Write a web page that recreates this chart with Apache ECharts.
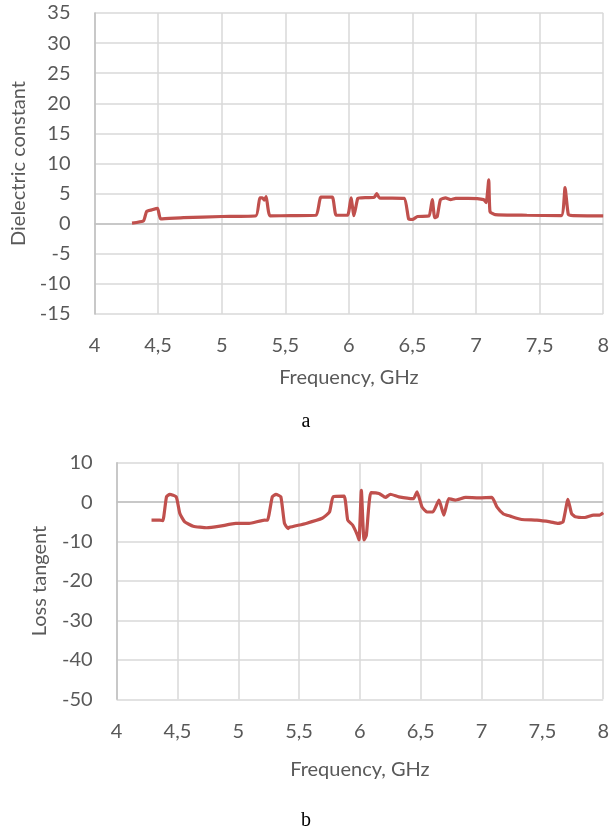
<!DOCTYPE html>
<html><head><meta charset="utf-8">
<script src="https://cdn.jsdelivr.net/npm/echarts@6/dist/echarts.min.js"></script>
<style>html,body{margin:0;padding:0;background:#fff}#c{width:612px;height:836px}</style>
</head><body><div id="c"></div>
<script>
// Chart a: Dielectric constant vs frequency (GHz)
const freqA = [4.295,4.386,4.41,4.45,4.496,4.52,4.7,5.0,5.27,5.30,5.32,5.335,5.35,5.38,5.55,5.743,5.78,5.87,5.9,5.99,6.017,6.04,6.07,6.1,6.2,6.22,6.24,6.435,6.47,6.50,6.54,6.63,6.656,6.675,6.695,6.72,6.76,6.80,6.84,6.94,7.06,7.08,7.10,7.11,7.15,7.4,7.67,7.70,7.726,7.765,8.0];
const epsA  = [0.1,0.5,2.05,2.3,2.55,0.8,1.0,1.2,1.33,4.3,4.3,3.9,4.5,1.3,1.35,1.4,4.4,4.4,1.4,1.4,4.3,1.33,4.2,4.3,4.4,5.0,4.3,4.2,0.8,0.7,1.2,1.3,4.0,1.0,1.2,4.0,4.3,4.0,4.2,4.2,4.0,3.5,7.3,2.0,1.5,1.4,1.33,6.0,1.5,1.33,1.3];
// Chart b: Loss tangent vs frequency (GHz)
const freqB = [4.287,4.355,4.38,4.41,4.437,4.49,4.52,4.56,4.63,4.74,4.85,4.98,5.09,5.215,5.24,5.28,5.31,5.35,5.38,5.41,5.42,5.557,5.69,5.75,5.78,5.87,5.9,5.94,5.98,5.993,6.012,6.034,6.053,6.09,6.157,6.21,6.25,6.32,6.44,6.47,6.51,6.55,6.6,6.65,6.69,6.73,6.785,6.87,6.976,7.085,7.126,7.18,7.236,7.33,7.454,7.564,7.63,7.67,7.71,7.74,7.77,7.85,7.92,7.97,8.0];
const lossB = [-4.57,-4.57,-4.7,1.35,1.95,1.35,-2.9,-5.0,-6.1,-6.5,-6.1,-5.4,-5.4,-4.57,-4.6,1.35,1.95,1.35,-5.4,-6.7,-6.4,-5.4,-4.1,-2.5,1.35,1.5,-4.57,-5.8,-8.4,-9.6,3.0,-9.6,-8.4,2.4,2.2,1.2,2.0,1.35,0.9,2.6,-1.2,-2.5,-2.5,0.5,-3.3,0.9,0.5,1.2,1.1,1.2,-1.2,-3.0,-3.55,-4.4,-4.57,-5.0,-5.4,-5.0,0.7,-2.9,-3.7,-3.9,-3.3,-3.3,-2.7];
const xTicks = {min:4, max:8, interval:0.5};
const yTicksA = {min:-15, max:35, interval:5};
const yTicksB = {min:-50, max:10, interval:10};

const FONT = 'Lato';
const FS = 20;
const TXT = '#595959';
const GRID = '#D9D9D9';
const AXIS = '#BFBFBF';
const RED = '#C0504D';
const fmt = v => String(v).replace('.', ',');

function xAxis(gi, gap){
  return {type:'value', gridIndex:gi, min:xTicks.min, max:xTicks.max, interval:xTicks.interval,
    name:'Frequency, GHz', nameLocation:'middle', nameGap:gap,
    nameTextStyle:{fontFamily:FONT, fontSize:FS, color:TXT},
    axisLine:{show:false}, axisTick:{show:false},
    axisLabel:{fontFamily:FONT, fontSize:FS, color:TXT, margin:22, formatter:fmt},
    splitLine:{show:true, lineStyle:{color:GRID, width:1.5}}};
}
function yAxis(gi, t, name, gap){
  return {type:'value', gridIndex:gi, min:t.min, max:t.max, interval:t.interval,
    name:name, nameLocation:'middle', nameGap:gap,
    nameTextStyle:{fontFamily:FONT, fontSize:FS, color:TXT},
    axisLine:{show:true, onZero:false, lineStyle:{color:AXIS, width:1.5}}, axisTick:{show:false},
    axisLabel:{fontFamily:FONT, fontSize:FS, color:TXT, margin:24},
    splitLine:{show:true, lineStyle:{color:GRID, width:1.5}}};
}
const zeroLine = {silent:true, symbol:'none', label:{show:false},
  lineStyle:{color:AXIS, width:1.5, type:'solid'}, data:[{yAxis:0}]};

const chart = echarts.init(document.getElementById('c'), null, {renderer:'canvas'});
chart.setOption({
  animation:false,
  backgroundColor:'#fff',
  grid:[
    {left:94.5, right:7, top:13, bottom:522, containLabel:false},
    {left:116.6, right:7, top:462.7, bottom:136.7, containLabel:false}
  ],
  xAxis:[xAxis(0, 54), xAxis(1, 60)],
  yAxis:[yAxis(0, yTicksA, 'Dielectric constant', 66), yAxis(1, yTicksB, 'Loss tangent', 67)],
  graphic:[
    {type:'text', left:'center', top:412, style:{text:'a', fontFamily:'Liberation Serif', fontSize:20, fill:'#000'}},
    {type:'text', left:'center', top:811, style:{text:'b', fontFamily:'Liberation Serif', fontSize:20, fill:'#000'}}
  ],
  series:[
    {type:'line', xAxisIndex:0, yAxisIndex:0, data:freqA.map((f,i)=>[f, epsA[i]]),
     showSymbol:false, smooth:0.15, lineStyle:{color:RED, width:3.2}, itemStyle:{color:RED}, markLine:zeroLine, z:5},
    {type:'line', xAxisIndex:1, yAxisIndex:1, data:freqB.map((f,i)=>[f, lossB[i]]),
     showSymbol:false, smooth:0.15, lineStyle:{color:RED, width:3.2}, itemStyle:{color:RED}, markLine:zeroLine, z:5}
  ]
});
</script></body></html>
